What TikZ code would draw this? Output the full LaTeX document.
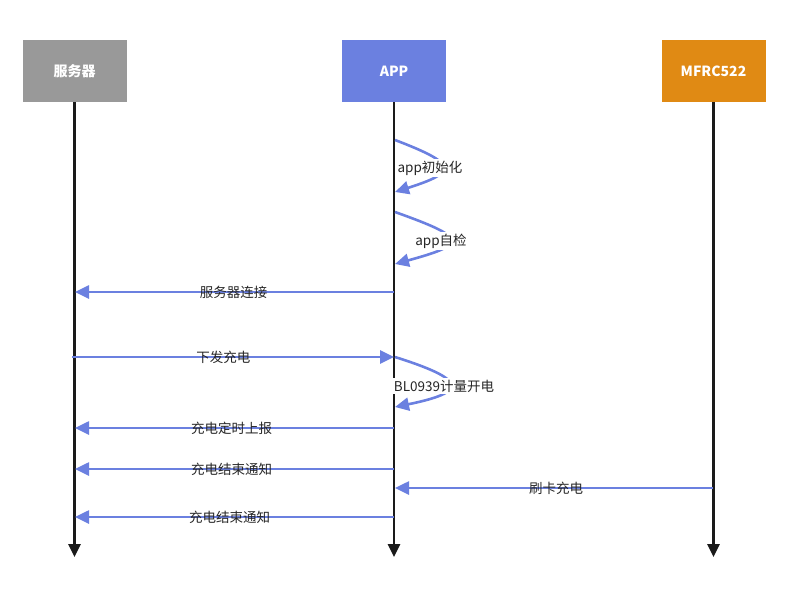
\documentclass[tikz,border=0pt]{standalone}
\usepackage{fontspec}
\setmainfont{Noto Sans CJK SC}
\usetikzlibrary{arrows.meta}
\definecolor{appblue}{RGB}{107,128,224}
\definecolor{srvgray}{RGB}{153,153,153}
\definecolor{rforange}{RGB}{224,138,20}
\definecolor{lifeblack}{RGB}{26,26,26}
\tikzset{
  actor/.style={minimum width=104pt,minimum height=62pt,inner sep=0pt,text=white,font=\fontsize{14}{16}\selectfont\bfseries},
  life/.style={line width=2.8pt,draw=lifeblack,-{Triangle[length=13pt,width=12pt]}},
  msg/.style={line width=2.6pt,draw=appblue,-{Triangle[length=14pt,width=13pt]}},
  lbl/.style={font=\fontsize{13.5}{15}\selectfont,text=black!85,inner sep=1pt},
  slbl/.style={lbl,fill=white,inner sep=1.5pt}
}
\begin{document}
\begin{tikzpicture}[x=1pt,y=-1pt]
\useasboundingbox (0,0) rectangle (797,595);
\node[actor,fill=srvgray] (srv) at (74.5,71) {服务器};
\node[actor,fill=appblue] (app) at (394,71) {APP};
\node[actor,fill=rforange] (rf) at (713.5,71) {MFRC522};
\coordinate (srvE) at (74.5,557);
\coordinate (appE) at (394,557);
\coordinate (rfE) at (713.5,557);
\draw[life] (srv.south) -- (srvE);
\draw[life] (app.south) -- (appE);
\draw[life] (rf.south) -- (rfE);
% self messages
\coordinate (s1a) at (395,140); \coordinate (s1b) at (395,192);
\draw[msg] (s1a) .. controls (458,164) and (458,172) .. (s1b);
\node[slbl] (l1) at (430,168) {app初始化};
\coordinate (s2a) at (395,212); \coordinate (s2b) at (395,264);
\draw[msg] (s2a) .. controls (468,238) and (468,244) .. (s2b);
\node[slbl] (l2) at (441,241) {app自检};
% horizontal
\coordinate (m1a) at (394,292); \coordinate (m1b) at (75,292);
\draw[msg] (m1a) -- (m1b) node[lbl,midway,xshift=-1pt] {服务器连接};
\coordinate (m2a) at (72,357); \coordinate (m2b) at (394,357);
\draw[msg] (m2a) -- (m2b) node[lbl,pos=0.47] {下发充电};
\coordinate (s3a) at (395,357); \coordinate (s3b) at (395,407);
\draw[msg] (s3a) .. controls (468,380) and (468,392) .. (s3b);
\node[slbl] (l3) at (444,386) {BL0939计量开电};
\coordinate (m3a) at (394,428); \coordinate (m3b) at (75,428);
\draw[msg] (m3a) -- (m3b) node[lbl,midway,xshift=-3pt] {充电定时上报};
\coordinate (m4a) at (394,469); \coordinate (m4b) at (75,469);
\draw[msg] (m4a) -- (m4b) node[lbl,midway,xshift=-3pt] {充电结束通知};
\coordinate (m5a) at (713,488); \coordinate (m5b) at (395,488);
\draw[msg] (m5a) -- (m5b) node[lbl,midway,xshift=2pt] {刷卡充电};
\coordinate (m6a) at (394,517); \coordinate (m6b) at (75,517);
\draw[msg] (m6a) -- (m6b) node[lbl,midway,xshift=-5pt] {充电结束通知};
\end{tikzpicture}
\end{document}
